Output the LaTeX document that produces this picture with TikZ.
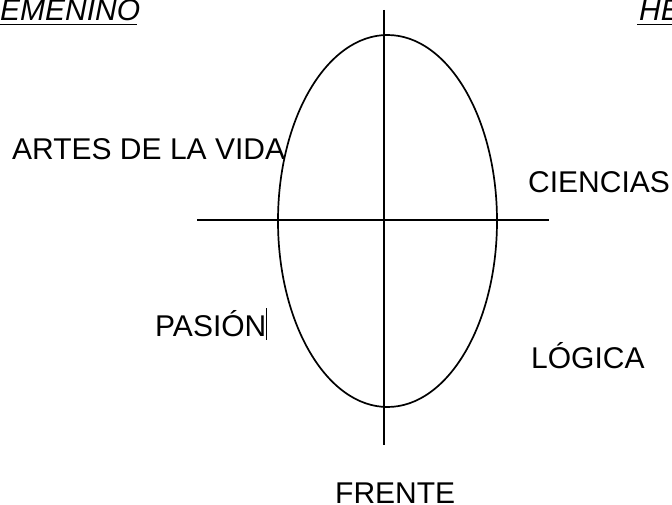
\documentclass[tikz,border=0pt]{standalone}
\usepackage{fontspec}
\setmainfont{Liberation Sans}
\begin{document}
\begin{tikzpicture}[x=1pt,y=-1pt,
  lbl/.style={font=\fontsize{30}{34}\selectfont, inner sep=0pt, anchor=base west},
  ttl/.style={font=\fontsize{30}{34}\selectfont\itshape, inner sep=0pt, anchor=base west},
  ln/.style={line width=1.7pt}]
\useasboundingbox (0,0) rectangle (672,505);
\draw[ln] (387.5,221) ellipse [x radius=109.5, y radius=186];
\coordinate (hl) at (197,220); \coordinate (hr) at (549,220);
\coordinate (vt) at (384,10); \coordinate (vb) at (384,445);
\draw[ln] (hl) -- (hr);
\draw[ln] (vt) -- (vb);
\node[lbl] (artes) at (12,160) {ARTES DE LA VIDA};
\node[lbl] (cien) at (528,193) {CIENCIAS};
\node[lbl] (pasion) at (155,336) {PASIÓN};
\coordinate (ct) at (266.5,308); \coordinate (cb) at (266.5,340);
\draw[line width=1.3pt] (ct) -- (cb);
\node[lbl] (logica) at (531,368) {LÓGICA};
\node[lbl] (frente) at (335,503) {FRENTE};
\node[ttl] (fem) at (0,21) {EMENINO};
\coordinate (u1) at (0,24.5); \coordinate (u2) at (137,24.5);
\draw[line width=1.7pt] (u1) -- (u2);
\node[ttl] (hem) at (639,21) {HE};
\coordinate (u3) at (637,24.5); \coordinate (u4) at (672,24.5);
\draw[line width=1.7pt] (u3) -- (u4);
\end{tikzpicture}
\end{document}
